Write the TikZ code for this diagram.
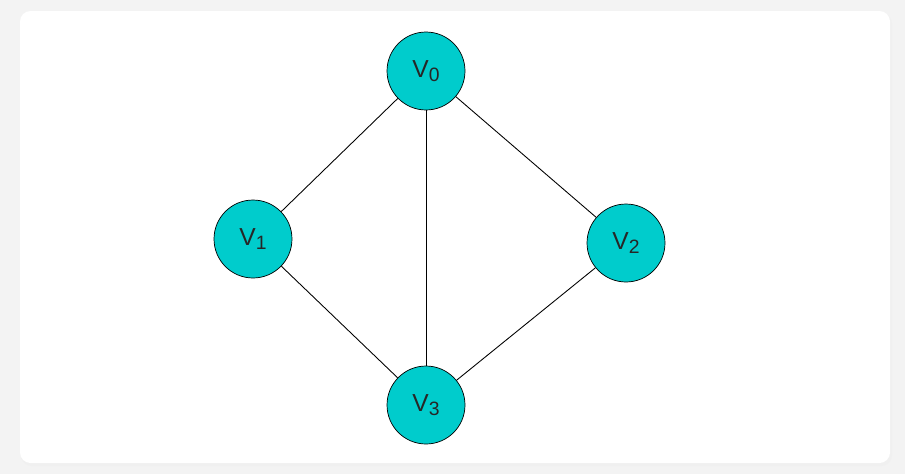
\documentclass[tikz,border=0pt]{standalone}
\usepackage{fontspec}
\setmainfont{Liberation Sans}
\definecolor{vcyan}{RGB}{0,204,204}
\definecolor{pagegray}{RGB}{243,243,243}
\newcommand{\vlabel}[1]{V\raisebox{-2.2pt}{\fontsize{11}{12}\selectfont #1}}
\begin{document}
\begin{tikzpicture}[
    x=0.02cm, y=-0.02cm,
    vert/.style={circle, draw, fill=vcyan, minimum size=1.56cm, inner sep=0pt, text=black!85, font=\fontsize{14}{16}\selectfont},
    edge/.style={draw, line width=0.5pt}
]
  % page and card
  \fill[pagegray] (0,0) rectangle (905,474);
  \fill[black!6] (21,13) [rounded corners=6pt] rectangle (892,466);
  \fill[white, rounded corners=6pt] (20,11) rectangle (890,463);
  \useasboundingbox (0,0) rectangle (905,474);
  % vertices
  \foreach \i/\x/\y in {0/426/71, 1/253/239, 2/626/243, 3/426/405} {
    \node[vert] (v\i) at (\x, \y) {\vlabel{\i}};
  }
  % edges
  \draw[edge] (v0) -- (v1);
  \draw[edge] (v0) -- (v2);
  \draw[edge] (v0) -- (v3);
  \draw[edge] (v1) -- (v3);
  \draw[edge] (v2) -- (v3);
\end{tikzpicture}
\end{document}
